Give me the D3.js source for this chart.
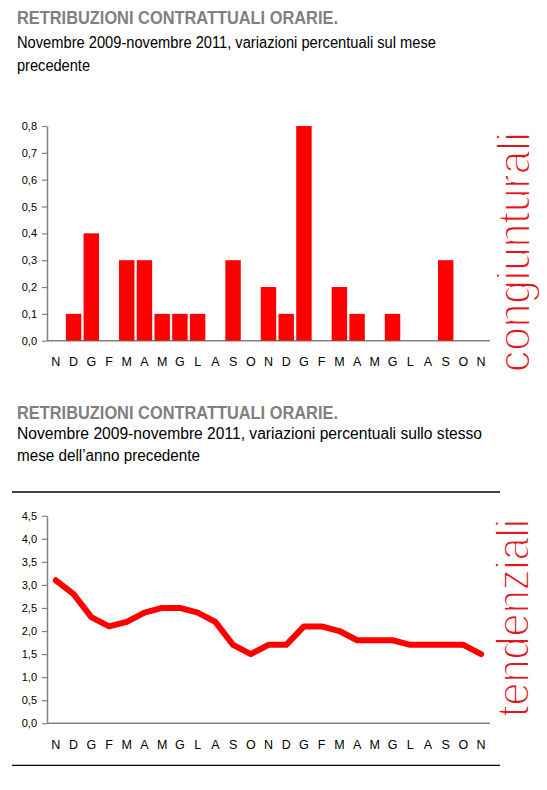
<!DOCTYPE html>
<html>
<head>
<meta charset="utf-8">
<script src="https://cdn.jsdelivr.net/npm/d3@7"></script>
<style>
  body { margin: 0; background: #fff; }
  svg { display: block; }
  text { font-family: "Liberation Sans", Arial, sans-serif; }
</style>
</head>
<body>
<div class="board"></div>
<script>
var width = 547, height = 790

// months, nov 2009 - nov 2011
var months = ["N","D","G","F","M","A","M","G","L","A","S","O",
              "N","D","G","F","M","A","M","G","L","A","S","O","N"]

// variazioni congiunturali (bars)
var congiunturali = [0, 0.1, 0.4, 0, 0.3, 0.3, 0.1, 0.1, 0.1, 0, 0.3, 0,
                     0.2, 0.1, 0.8, 0, 0.2, 0.1, 0, 0.1, 0, 0, 0.3, 0, 0]

// variazioni tendenziali (line)
var tendenziali = [3.1, 2.8, 2.3, 2.1, 2.2, 2.4, 2.5, 2.5, 2.4, 2.2, 1.7, 1.5,
                   1.7, 1.7, 2.1, 2.1, 2.0, 1.8, 1.8, 1.8, 1.7, 1.7, 1.7, 1.7, 1.5]

var barTicks = [0, 0.1, 0.2, 0.3, 0.4, 0.5, 0.6, 0.7, 0.8]
var lineTicks = [0, 0.5, 1, 1.5, 2, 2.5, 3, 3.5, 4, 4.5]

var TITLE = "RETRIBUZIONI CONTRATTUALI ORARIE."
var RED = "#ff0000"
var GRAY = "#808080"

var svg = d3.select(".board")
    .append("svg")
    .attr("width", width)
    .attr("height", height)

var fmt = d => d3.format(".1f")(d).replace(".", ",")

function appendHeading(y0, lines) {
    svg.append("text")
        .text(TITLE)
        .attr("x", 17)
        .attr("y", y0)
        .attr("fill", GRAY)
        .attr("font-weight", "bold")
        .attr("font-size", 18)
        .attr("textLength", 321)
        .attr("lengthAdjust", "spacingAndGlyphs")

    lines.forEach(l => {
        svg.append("text")
            .text(l.text)
            .attr("x", 17)
            .attr("y", l.y)
            .attr("fill", "#000")
            .attr("font-size", 16)
            .attr("textLength", l.len)
            .attr("lengthAdjust", "spacingAndGlyphs")
    })
}

function appendFrame(domainMax, y0, y1, ticks, labelY) {
    let xScale = d3.scaleBand()
        .domain(d3.range(months.length))
        .range([47, 490])
        .paddingInner(0.13)
        .paddingOuter(0.065)

    let yScale = d3.scaleLinear()
        .domain([0, domainMax])
        .range([y0, y1])

    let yAxis = svg.append("g")
        .attr("transform", "translate(47,0)")
        .call(d3.axisLeft(yScale).tickValues(ticks).tickFormat(fmt).tickSize(5).tickSizeOuter(0))

    yAxis.select(".domain").attr("stroke", GRAY).attr("stroke-width", 1.5)
    yAxis.selectAll(".tick line").attr("stroke", GRAY).attr("stroke-width", 1.2)
    yAxis.selectAll(".tick text")
        .attr("font-family", "Liberation Sans, Arial, sans-serif")
        .attr("font-size", 11)
        .attr("fill", "#000")
        .attr("x", -10)

    svg.append("line")
        .attr("x1", 47).attr("x2", 490)
        .attr("y1", y0).attr("y2", y0)
        .attr("stroke", GRAY)
        .attr("stroke-width", 1.5)

    svg.append("g").selectAll("text")
        .data(months)
        .enter()
        .append("text")
        .text(d => d)
        .attr("x", (d, i) => xScale(i) + xScale.bandwidth() / 2)
        .attr("y", labelY)
        .attr("text-anchor", "middle")
        .attr("font-size", 12.5)
        .attr("fill", "#000")

    return { x: xScale, y: yScale }
}

// thin look: white stroke painted over the fill eats into the glyphs
function appendSideLabel(text, x, y, len) {
    svg.append("text")
        .text(text)
        .attr("transform", `translate(${x},${y}) rotate(-90)`)
        .attr("font-family", "Liberation Sans, Arial, sans-serif")
        .attr("font-size", 46)
        .attr("fill", "#e3161e")
        .attr("stroke", "#fff")
        .attr("stroke-width", 1.7)
        .attr("stroke-linejoin", "round")
        .attr("textLength", len)
        .attr("lengthAdjust", "spacingAndGlyphs")
}

// ---- top chart: congiunturali
appendHeading(24.3, [
    { text: "Novembre 2009-novembre 2011, variazioni percentuali sul mese", y: 48.3, len: 419 },
    { text: "precedente", y: 71, len: 73 }
])

let barChart = appendFrame(0.8, 340.7, 126, barTicks, 366)

svg.append("g").selectAll("rect")
    .data(congiunturali)
    .enter()
    .append("rect")
    .attr("x", (d, i) => barChart.x(i))
    .attr("width", barChart.x.bandwidth())
    .attr("y", d => barChart.y(d))
    .attr("height", d => barChart.y(0) - barChart.y(d))
    .attr("fill", RED)

appendSideLabel("congiunturali", 530, 372, 240)

// ---- bottom chart: tendenziali
appendHeading(419.3, [
    { text: "Novembre 2009-novembre 2011, variazioni percentuali sullo stesso", y: 439.3, len: 465 },
    { text: "mese dell\u2019anno precedente", y: 461, len: 183 }
])

svg.append("line")
    .attr("x1", 12).attr("x2", 500)
    .attr("y1", 492).attr("y2", 492)
    .attr("stroke", "#000").attr("stroke-width", 1.3)

svg.append("line")
    .attr("x1", 12).attr("x2", 500)
    .attr("y1", 765.3).attr("y2", 765.3)
    .attr("stroke", "#000").attr("stroke-width", 1.3)

let lineChart = appendFrame(4.5, 723.3, 515.7, lineTicks, 749.3)

svg.append("path")
    .datum(tendenziali)
    .attr("fill", "none")
    .attr("stroke", RED)
    .attr("stroke-width", 6)
    .attr("stroke-linejoin", "round")
    .attr("stroke-linecap", "round")
    .attr("d", d3.line()
        .x((d, i) => lineChart.x(i) + lineChart.x.bandwidth() / 2)
        .y(d => lineChart.y(d)))

appendSideLabel("tendenziali", 529, 717, 198)
</script>
</body>
</html>
